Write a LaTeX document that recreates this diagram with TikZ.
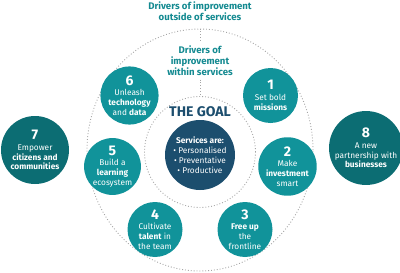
\documentclass[tikz,border=0pt]{standalone}
\usepackage{fontspec}
\setmainfont{Fira Sans}
\usepackage{xcolor}
\usepackage{tikz}
\usetikzlibrary{shapes.geometric,positioning}
\definecolor{driverTeal}{RGB}{17,147,154}
\definecolor{partnerTeal}{RGB}{12,109,115}
\definecolor{goalBlue}{RGB}{28,78,110}
\definecolor{headTeal}{RGB}{20,138,145}
\definecolor{dotGray}{RGB}{165,165,165}
\tikzset{
  ring/.style={draw=dotGray, dotted, line width=0.9pt, inner sep=0pt},
  driver/.style={
    circle, fill=driverTeal, text=white, minimum size=55pt, inner sep=0pt,
    align=center, font=\fontsize{8.3}{9.7}\selectfont
  },
  partner/.style={driver, fill=partnerTeal, minimum size=68pt},
  headline/.style={text=headTeal, align=center, font=\bfseries\fontsize{9.6}{11}\selectfont},
  dotline/.style={draw=dotGray, dotted, line width=0.9pt}
}
\newcommand{\drnum}[1]{{\fontsize{14}{14}\selectfont\bfseries #1}\\[1pt]}

\begin{document}
\begin{tikzpicture}[x=1pt, y=-1pt]
        \useasboundingbox (0,0) rectangle (400,273);
        % rings
        \node[ring, ellipse, minimum width=226pt, minimum height=242pt] (outer) at (200,150) {};
        \node[ring, circle, minimum size=111pt]                         (inner) at (200,152) {};
        % headings
        \node[headline] (outside) at (200,11) {Drivers of improvement\\outside of services};
        \node[headline] (within)  at (200,61) {Drivers of\\improvement\\within services};
        \draw[dotline] (outer.north)  -- (within.north);
        \draw[dotline] (within.south) -- (inner.north);
        % the goal
        \node[text=goalBlue, font=\bfseries\fontsize{14}{14}\selectfont] (title) at (200,112) {THE GOAL};
        \node[driver, fill=goalBlue, minimum size=70pt] (goal) at (200,155)
             {\textbf{Services are:}\\[0.5pt] • Personalised\\ • Preventative\\ • Productive};
        % drivers within services
        \node[driver] (d1) at (270.5,95.5) {\drnum{1}Set bold\\\textbf{missions}};
        \node[driver] (d2) at (287.5,166.5){\drnum{2}Make\\\textbf{investment}\\smart};
        \node[driver] (d3) at (245,229.5)  {\drnum{3}\textbf{Free up}\\the\\frontline};
        \node[driver] (d4) at (155,229.5)  {\drnum{4}Cultivate\\\textbf{talent} in\\the team};
        \node[driver] (d5) at (112.5,166.5){\drnum{5}Build a\\\textbf{learning}\\ecosystem};
        \node[driver] (d6) at (129.5,95.5) {\drnum{6}Unleash\\\textbf{technology}\\and \textbf{data}};
        % drivers outside of services
        \node[partner] (d7) at (35,150)  {\drnum{7}Empower\\\textbf{citizens and}\\\textbf{communities}};
        \node[partner] (d8) at (366,148) {\drnum{8}A new\\partnership with\\\textbf{businesses}};
      \end{tikzpicture}
\end{document}
